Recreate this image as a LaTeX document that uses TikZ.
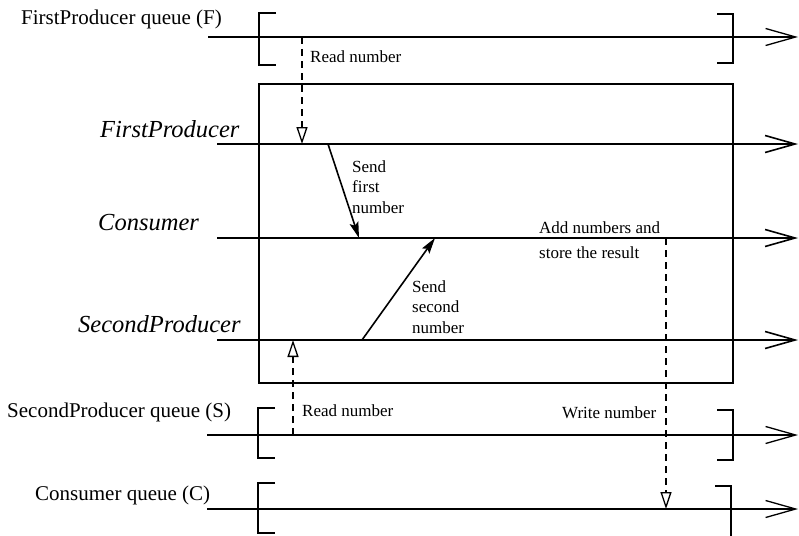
\documentclass[tikz,border=0pt]{standalone}
\usepackage{fontspec}
\setmainfont{Liberation Serif}
\usepackage{tikz}
\usetikzlibrary{arrows.meta, positioning, calc}

\begin{document}
\begin{tikzpicture}[
    x=1pt, y=-1pt,
    queuelabel/.style = {anchor=base west, inner sep=0pt, font=\fontsize{21}{25}\selectfont},
    proclabel/.style = {anchor=base west, inner sep=0pt, font=\fontsize{24.5}{28}\selectfont\itshape},
    note/.style = {anchor=base west, inner sep=0pt, align=left, font=\fontsize{17}{20.5}\selectfont},
    queueline/.style = {draw=black, line width=1.3pt, -{Straight Barb[length=30pt, width=17pt, line width=1.3pt]}},
    lifeline/.style = {draw=black, line width=2.4pt, -{Straight Barb[length=30pt, width=17pt, line width=1.6pt]}},
    bracket/.style = {draw=black, line width=1.3pt},
    frame/.style = {draw=black, line width=1.3pt},
    access/.style = {draw=black, line width=1.3pt, dash pattern=on 7pt off 5pt, -{Triangle[open, length=17pt, width=11pt, line width=1.3pt]}},
    msg/.style = {draw=black, line width=1.6pt, -{Stealth[length=16pt, width=9pt, inset=3pt]}}
]
\useasboundingbox (0,0) rectangle (799,535);

% Queues
\node (fq) [queuelabel] at (21, 25) {FirstProducer queue (F)};
\node (sq) [queuelabel] at (7, 417) {SecondProducer queue (S)};
\node (cq) [queuelabel] at (35, 500) {Consumer queue (C)};

\coordinate (fqs) at (208, 37);  \coordinate (fqe) at (798, 37);
\coordinate (sqs) at (207, 435); \coordinate (sqe) at (798, 435);
\coordinate (cqs) at (207, 509); \coordinate (cqe) at (798, 509);

\draw [queueline] (fqs) -- (fqe);
\draw [queueline] (sqs) -- (sqe);
\draw [queueline] (cqs) -- (cqe);

\draw [bracket] (276, 13) -- (259, 13) -- (259, 65) -- (276, 65);
\draw [bracket] (717, 14) -- (733, 14) -- (733, 63) -- (717, 63);
\draw [bracket] (275, 408) -- (258, 408) -- (258, 458) -- (275, 458);
\draw [bracket] (717, 410) -- (733, 410) -- (733, 460) -- (717, 460);
\draw [bracket] (275, 483) -- (258, 483) -- (258, 533) -- (275, 533);
\draw [bracket] (715, 486) -- (731, 486) -- (731, 540);

% Processes
\draw [frame] (259, 84) rectangle (733, 383);

\node (fp) [proclabel] at (100, 137) {FirstProducer};
\node (cons) [proclabel] at (98, 230) {Consumer};
\node (sp) [proclabel] at (78, 332) {SecondProducer};

\coordinate (fps) at (217, 144); \coordinate (fpe) at (798, 144);
\coordinate (cs) at (217, 238);  \coordinate (ce) at (798, 238);
\coordinate (sps) at (217, 340); \coordinate (spe) at (798, 340);

\draw [lifeline] (fps) -- (fpe);
\draw [lifeline] (cs) -- (ce);
\draw [lifeline] (sps) -- (spe);

% Messages
\coordinate (readf) at (302, 37);  \coordinate (gotf) at (302, 144);
\coordinate (reads) at (293, 435); \coordinate (gots) at (293, 340);
\coordinate (res) at (666, 238);   \coordinate (putc) at (666, 509);
\coordinate (sendf) at (328, 144); \coordinate (recvf) at (359, 238);
\coordinate (sends) at (362, 340); \coordinate (recvs) at (435, 238);

\draw [access] (readf) -- (gotf);
\draw [access] (reads) -- (gots);
\draw [access] (res) -- (putc);
\draw [msg] (sendf) -- (recvf);
\draw [msg] (sends) -- (recvs);

\node (rf) [note] at (310, 63) {Read number};
\node (rs) [note] at (302, 416) {Read number};
\node (wc) [note] at (562, 418) {Write number};
\node (sf) [note] at (352, 213) {Send\\first\\number};
\node (ss) [note] at (412, 333) {Send\\second\\number};
\node (add) [note] at (539, 233) {Add numbers and};
\node (store) [note] at (539, 258) {store the result};

\end{tikzpicture}
\end{document}
